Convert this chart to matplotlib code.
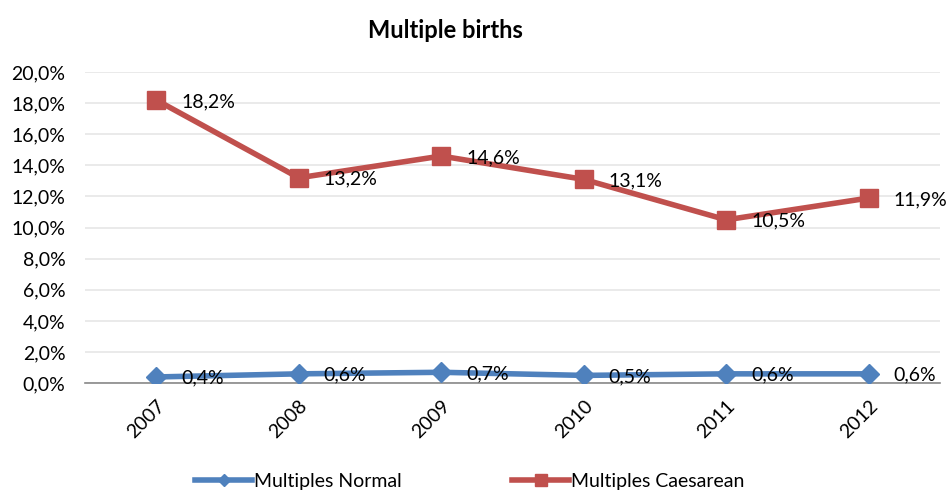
import matplotlib
matplotlib.use("Agg")
import matplotlib.pyplot as plt

years = ["2007", "2008", "2009", "2010", "2011", "2012"]
normal = [0.4, 0.6, 0.7, 0.5, 0.6, 0.6]
caesarean = [18.2, 13.2, 14.6, 13.1, 10.5, 11.9]
yticks = [0, 2, 4, 6, 8, 10, 12, 14, 16, 18, 20]

plt.rcParams['font.family'] = ['Lato', 'DejaVu Sans']

fig = plt.figure(figsize=(9.49, 4.9), dpi=100)
ax = fig.add_axes([0.0896, 0.218, 0.9009, 0.635])

x = list(range(len(years)))
blue = '#4F81BD'
red = '#C0504D'
ax.plot(x, normal, color=blue, lw=4, marker='D', ms=10, label='Multiples Normal', zorder=3)
ax.plot(x, caesarean, color=red, lw=4, marker='s', ms=13, label='Multiples Caesarean', zorder=3)

def fmt(v):
    return f"{v:.1f}%".replace('.', ',')

for xi, v in zip(x, normal):
    ax.annotate(fmt(v), (xi, v), xytext=(18, -1), textcoords='offset points',
                ha='left', va='center', fontsize=14, color='black', zorder=4)
for xi, v in zip(x, caesarean):
    ax.annotate(fmt(v), (xi, v), xytext=(18, -1), textcoords='offset points',
                ha='left', va='center', fontsize=14, color='black', zorder=4)

ax.set_xlim(-0.5, len(years) - 0.5)
ax.set_ylim(0, 20)
ax.set_yticks(yticks)
ax.set_yticklabels([f"{t},0%" for t in yticks], fontsize=14)
ax.set_xticks(x)
ax.set_xticklabels(years, rotation=45, ha='right', rotation_mode='anchor', fontsize=14)
ax.tick_params(axis='y', length=0, pad=14)
ax.tick_params(axis='x', length=0, pad=10)
ax.grid(axis='y', color='#E6E6E6', lw=1.2)
ax.set_axisbelow(True)
for s in ['top', 'right', 'left']:
    ax.spines[s].set_visible(False)
ax.spines['bottom'].set_color('#898989')
ax.spines['bottom'].set_linewidth(1.2)

fig.suptitle('Multiple births', fontsize=17, fontweight='bold', y=0.962, x=0.469)

fig.legend(loc='lower center', ncol=2, frameon=False, fontsize=14,
           bbox_to_anchor=(0.495, -0.035), handlelength=2.9, columnspacing=5.7,
           handletextpad=0.1, markerscale=0.65)

fig.savefig('out.png', dpi=100, facecolor='white')
